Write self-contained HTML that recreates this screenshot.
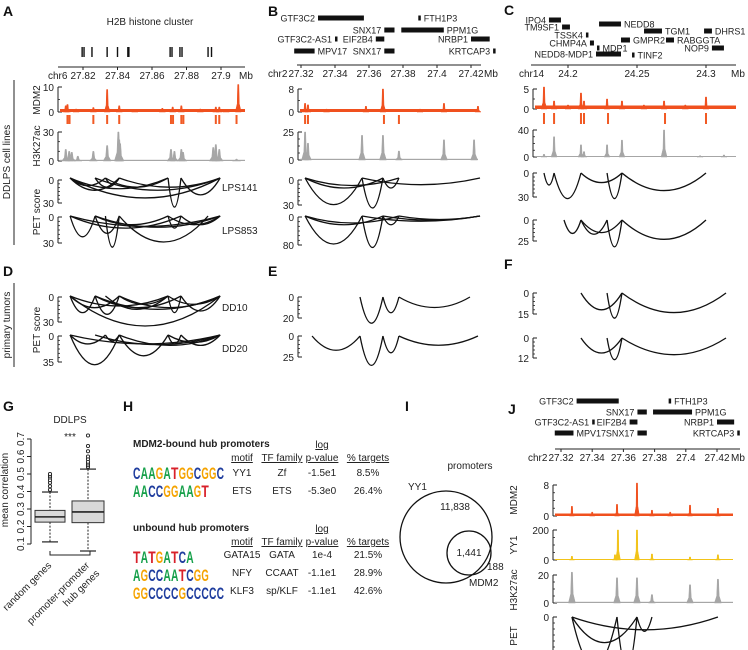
<!DOCTYPE html>
<html><head><meta charset="utf-8">
<style>
html,body{margin:0;padding:0;background:#fff;}
svg{display:block;font-family:"Liberation Sans",sans-serif;}
text{fill:#222;}
.pl{font-size:14px;font-weight:bold;fill:#111;}
.t{font-size:10px;}
.u{text-decoration:underline;}
</style></head>
<body>
<svg id="fig" width="748" height="650" viewBox="0 0 748 650" xmlns="http://www.w3.org/2000/svg">
<text class="pl" x="3" y="16">A</text>
<text class="pl" x="268" y="16">B</text>
<text class="pl" x="504" y="15">C</text>
<text class="pl" x="3" y="276">D</text>
<text class="pl" x="268" y="276">E</text>
<text class="pl" x="504" y="269">F</text>
<text class="pl" x="3" y="411">G</text>
<text class="pl" x="123" y="411">H</text>
<text class="pl" x="405" y="411">I</text>
<text class="pl" x="508" y="414">J</text>

<text class="t" x="150" y="25" text-anchor="middle">H2B histone cluster</text>

<line x1="14" y1="80" x2="14" y2="245" stroke="#222" stroke-width="1"/>
<text class="t" transform="translate(10,162) rotate(-90)" text-anchor="middle">DDLPS cell lines</text>
<line x1="14" y1="283" x2="14" y2="367" stroke="#222" stroke-width="1"/>
<text class="t" transform="translate(10,325) rotate(-90)" text-anchor="middle">primary tumors</text>

<text class="t" transform="translate(40,100) rotate(-90)" text-anchor="middle">MDM2</text>
<text class="t" transform="translate(40,146) rotate(-90)" text-anchor="middle">H3K27ac</text>
<text class="t" transform="translate(40,212) rotate(-90)" text-anchor="middle">PET score</text>
<text class="t" transform="translate(40,330) rotate(-90)" text-anchor="middle">PET score</text>

<text class="t" x="222" y="191">LPS141</text>
<text class="t" x="222" y="234">LPS853</text>
<text class="t" x="222" y="311">DD10</text>
<text class="t" x="222" y="352">DD20</text>

<text class="t" transform="translate(517,500) rotate(-90)" text-anchor="middle">MDM2</text>
<text class="t" transform="translate(517,545) rotate(-90)" text-anchor="middle">YY1</text>
<text class="t" transform="translate(517,590) rotate(-90)" text-anchor="middle">H3K27ac</text>
<text class="t" transform="translate(517,636) rotate(-90)" text-anchor="middle">PET</text>

<text class="t" transform="translate(8,490) rotate(-90)" text-anchor="middle">mean correlation</text>
<text class="t" x="70" y="423" text-anchor="middle">DDLPS</text>
<text class="t" x="70" y="440" text-anchor="middle">***</text>
<path d="M50 551 V555 H90 V551" fill="none" stroke="#222"/>
<text class="t" transform="translate(52,566) rotate(-45)" text-anchor="end">random genes</text>
<text class="t" transform="translate(90,566) rotate(-45)" text-anchor="end">promoter-promoter</text>
<text class="t" transform="translate(100,574) rotate(-45)" text-anchor="end">hub genes</text>

<g font-size="10">
<text x="133" y="447" font-weight="bold">MDM2-bound hub promoters</text>
<text class="u" x="322" y="448" text-anchor="middle">log</text>
<text class="u" x="242" y="461" text-anchor="middle">motif</text>
<text class="u" x="282" y="461" text-anchor="middle">TF family</text>
<text class="u" x="322" y="461" text-anchor="middle">p-value</text>
<text class="u" x="368" y="461" text-anchor="middle">% targets</text>
<text x="242" y="476" text-anchor="middle">YY1</text>
<text x="282" y="476" text-anchor="middle">Zf</text>
<text x="322" y="476" text-anchor="middle">-1.5e1</text>
<text x="368" y="476" text-anchor="middle">8.5%</text>
<text x="242" y="494" text-anchor="middle">ETS</text>
<text x="282" y="494" text-anchor="middle">ETS</text>
<text x="322" y="494" text-anchor="middle">-5.3e0</text>
<text x="368" y="494" text-anchor="middle">26.4%</text>

<text x="133" y="531" font-weight="bold">unbound hub promoters</text>
<text class="u" x="322" y="532" text-anchor="middle">log</text>
<text class="u" x="242" y="545" text-anchor="middle">motif</text>
<text class="u" x="282" y="545" text-anchor="middle">TF family</text>
<text class="u" x="322" y="545" text-anchor="middle">p-value</text>
<text class="u" x="368" y="545" text-anchor="middle">% targets</text>
<text x="242" y="558" text-anchor="middle">GATA15</text>
<text x="282" y="558" text-anchor="middle">GATA</text>
<text x="322" y="558" text-anchor="middle">1e-4</text>
<text x="368" y="558" text-anchor="middle">21.5%</text>
<text x="242" y="576" text-anchor="middle">NFY</text>
<text x="282" y="576" text-anchor="middle">CCAAT</text>
<text x="322" y="576" text-anchor="middle">-1.1e1</text>
<text x="368" y="576" text-anchor="middle">28.9%</text>
<text x="242" y="594" text-anchor="middle">KLF3</text>
<text x="282" y="594" text-anchor="middle">sp/KLF</text>
<text x="322" y="594" text-anchor="middle">-1.1e1</text>
<text x="368" y="594" text-anchor="middle">42.6%</text>
</g>

<text class="t" x="470" y="469" text-anchor="middle">promoters</text>
<circle cx="446" cy="537" r="46" fill="none" stroke="#111" stroke-width="1.3"/>
<circle cx="469" cy="553" r="22" fill="none" stroke="#111" stroke-width="1.3"/>
<text class="t" x="408" y="490">YY1</text>
<text class="t" x="455" y="510" text-anchor="middle">11,838</text>
<text class="t" x="469" y="556" text-anchor="middle">1,441</text>
<text class="t" x="487" y="570">188</text>
<text class="t" x="469" y="586">MDM2</text>
</svg>
<script>
const aGeneMarks = [27.8195,27.8206,27.8252,27.834,27.840,27.846,27.8466,27.8705,27.8716,27.8762,27.8774,27.8925,27.8945];
const aMdm2Pos = [27.810,27.811,27.816,27.826,27.834,27.841,27.850,27.866,27.872,27.877,27.888,27.897,27.899,27.903,27.910];
const aMdm2Val = [2.5,3,1.2,1.8,9,2.5,1,1.5,2,2.5,1.2,2,2,1,11];
const aTicks = [27.811,27.8122,27.826,27.834,27.841,27.871,27.8722,27.877,27.8782,27.897,27.899,27.909];
const aAcPos = [27.810,27.812,27.8135,27.817,27.826,27.834,27.8405,27.841,27.8415,27.871,27.873,27.877,27.878,27.8955,27.897,27.899,27.909];
const aAcVal = [12,10,9,5,10,16,30,22,18,12,10,12,9,14,17,12,2];
const lps141Arcs = [[27.8125,27.8995,26],[27.8125,27.8693,14],[27.8125,27.841,16],[27.827,27.8995,16],[27.827,27.841,12],[27.833,27.8693,12],[27.841,27.8995,12],[27.8693,27.8768,38],[27.8768,27.8995,22],[27.8125,27.833,10],[27.833,27.841,8]];
const lps853Arcs = [[27.8125,27.827,24],[27.8125,27.8995,12],[27.8125,27.8768,14],[27.827,27.841,20],[27.827,27.8693,10],[27.833,27.841,36],[27.841,27.8925,30],[27.8693,27.8768,14],[27.8693,27.8995,10],[27.8768,27.8995,10],[27.827,27.8995,13]];
const dd10Arcs = [[27.8125,27.8995,36],[27.8125,27.827,20],[27.8125,27.841,14],[27.8125,27.8693,12],[27.827,27.841,22],[27.827,27.8768,14],[27.833,27.8693,16],[27.841,27.8693,10],[27.841,27.8995,14],[27.8693,27.8768,20],[27.8693,27.8995,10],[27.8768,27.8995,18],[27.827,27.8995,16]];
const dd20Arcs = [[27.8125,27.841,40],[27.8125,27.8995,12],[27.8125,27.833,12],[27.833,27.841,8],[27.841,27.8693,28],[27.841,27.8995,14],[27.8693,27.8768,12],[27.8768,27.8995,14],[27.8693,27.8995,10],[27.827,27.8995,13]];
const bjGeneNames = ["GTF3C2","SNX17","FTH1P3","PPM1G","GTF3C2-AS1","EIF2B4","NRBP1","MPV17","SNX17","KRTCAP3"];
const bjGeneStart = [27.330,27.369,27.389,27.379,27.340,27.364,27.420,27.316,27.369,27.433];
const bjGeneEnd   = [27.357,27.375,27.3898,27.404,27.3408,27.369,27.431,27.328,27.375,27.4338];
const bjGeneRow   = [0,1,0,1,2,2,2,3,3,3];
const bjGeneSide  = ["L","L","R","R","L","L","L","R","L","L"];
const bMdm2Pos = [27.3224,27.3241,27.335,27.3582,27.3682,27.390,27.4041,27.4241];
const bMdm2Val = [3,2.5,1,2,8,1,3,2];
const bTicks = [27.3224,27.3241,27.3688,27.3776];
const bAcPos = [27.3224,27.3241,27.3559,27.3682,27.3776,27.4041,27.4218];
const bAcVal = [25,15,22,22,8,18,18];
const bPet1Arcs = [[27.3224,27.3559,32],[27.3224,27.3682,12],[27.3224,27.3776,9],[27.3559,27.3682,36],[27.3682,27.3776,12],[27.3559,27.4253,8]];
const bPet2Arcs = [[27.3224,27.3559,80],[27.3224,27.3682,25],[27.3224,27.3776,20],[27.3559,27.3682,90],[27.3682,27.3776,25],[27.3559,27.4253,15],[27.3682,27.4253,12],[27.3776,27.4253,10]];
const e1Arcs = [[27.3547,27.3682,25],[27.3682,27.3776,15],[27.3776,27.4194,10]];
const e2Arcs = [[27.3265,27.3547,17],[27.3547,27.3682,35],[27.3682,27.3776,20],[27.3776,27.4241,11]];
const cGeneNames = ["IPO4","TM9SF1","TSSK4","NEDD8","CHMP4A","MDP1","NEDD8-MDP1","TINF2","GMPR2","TGM1","RABGGTA","DHRS1","NOP9"];
const cGeneStart = [24.1862,24.1957,24.2130,24.2225,24.2159,24.2210,24.2203,24.2464,24.2384,24.2551,24.2710,24.2986,24.3043];
const cGeneEnd   = [24.1949,24.2014,24.2137,24.2384,24.2188,24.2217,24.2384,24.2471,24.2449,24.2681,24.2768,24.3043,24.3130];
const cGeneY     = [20,27,35,24,43,48,54,55,40,31,40,31,48];
const cGeneSide  = ["L","L","L","R","L","R","L","R","R","R","R","R","L"];
const cMdm2Pos = [24.1826,24.1899,24.200,24.2094,24.2116,24.2283,24.2391,24.255,24.2696,24.285,24.3];
const cMdm2Val = [5.5,2,1,4,2,2.5,2,1,2,1,3];
const cTicks = [24.1826,24.1899,24.2094,24.2116,24.229,24.2703,24.3];
const cAcPos = [24.1826,24.1899,24.2094,24.2116,24.2283,24.2391,24.2696,24.2957,24.313];
const cAcVal = [4,30,18,8,18,25,40,2,3];
const cPet1Arcs = [[24.1826,24.1899,15],[24.1899,24.2094,32],[24.2094,24.2391,12],[24.2283,24.2391,32],[24.2391,24.3,22]];
const cPet2Arcs = [[24.1971,24.2094,16],[24.2094,24.2283,17],[24.2094,24.2391,15],[24.2283,24.2391,32],[24.2391,24.3,23]];
const f1Arcs = [[24.2094,24.2391,12],[24.2283,24.2391,18],[24.2391,24.3145,14]];
const f2Arcs = [[24.2094,24.2391,9],[24.2283,24.2391,13],[24.2391,24.3145,10]];
const jMdm2Pos = [27.327,27.340,27.3559,27.3687,27.3783,27.390,27.4027,27.4206];
const jMdm2Val = [2.5,1,3,8.5,1.5,1,2.8,2];
const jYy1Pos = [27.327,27.3546,27.3565,27.3687,27.3783,27.4027,27.4206];
const jYy1Val = [25,35,200,200,40,20,35];
const jAcPos = [27.327,27.3559,27.3687,27.3783,27.4027,27.4206];
const jAcVal = [22,18,18,6,13,17];
const jPetArcs = [[27.327,27.3559,31],[27.327,27.3687,16],[27.327,27.4206,8],[27.3559,27.3687,32],[27.3687,27.3783,9]];
const boxGroups = ["random genes","promoter-promoter hub genes"];
const boxLo = [0.112,0.06];
const boxQ1 = [0.225,0.222];
const boxMed = [0.255,0.283];
const boxQ3 = [0.292,0.346];
const boxHi = [0.397,0.528];
const boxOutliers = [[0.41,0.43,0.45,0.465,0.48,0.49,0.50],[0.54,0.55,0.56,0.57,0.585,0.60,0.63,0.66,0.72]];
const boxTicks = [0.1,0.2,0.3,0.4,0.5,0.6,0.7];
const logoSeqs = ["CAAGATGGCGGC","AACCGGAAGT","TATGATCA","AGCCAATCGG","GGCCCCGCCCCC"];
const logoRowY = [472,490,556,574,592];

const NS = "http://www.w3.org/2000/svg";
const svg = document.getElementById("fig");
function add(tag, attrs, name) {
  const e = document.createElementNS(NS, tag);
  for (const k in attrs) e.setAttribute(k, attrs[k]);
  
  
  svg.appendChild(e);
  return e;
}
function txt(x, y, s, anchor, size, name) {
  const e = add("text", {x: x, y: y, "text-anchor": anchor, "font-size": size}, name);
  e.textContent = s;
  return e;
}
function scale(x0, g0, k) { return g => x0 + (g - g0) * k; }
const sA = scale(83, 27.82, 1725);
const sB = scale(301, 27.32, 1700);
const sC = scale(568, 24.2, 1380);
const sJ = scale(561, 27.32, 1560);

function xAxis(sc, x1, x2, y, ticks, labels, chr, chrX, mbX, name) {
  add("line", {x1: x1, y1: y, x2: x2, y2: y, stroke: "#222", "stroke-width": 1}, name + "-line");
  ticks.forEach((t, i) => {
    add("line", {x1: sc(t), y1: y, x2: sc(t), y2: y + 3, stroke: "#222"}, name + "-tick");
    txt(sc(t), y + 12, labels[i], "middle", 10, name + "-tick-label");
  });
  txt(chrX, y + 12, chr, "start", 10, name + "-chr-label");
  txt(mbX, y + 12, "Mb", "start", 10, name + "-unit-label");
}
function yAxis(x, yTop, yBot, lt, lb, minor, name) {
  add("line", {x1: x, y1: yTop, x2: x, y2: yBot, stroke: "#222"}, name);
  add("line", {x1: x, y1: yTop, x2: x + 4, y2: yTop, stroke: "#222"}, name + "-tick");
  add("line", {x1: x, y1: yBot, x2: x + 4, y2: yBot, stroke: "#222"}, name + "-tick");
  for (let i = 1; i < minor; i++) {
    const yy = yTop + (yBot - yTop) * i / minor;
    add("line", {x1: x, y1: yy, x2: x + 2, y2: yy, stroke: "#222", "stroke-width": 0.8}, name + "-minor-tick");
  }
  txt(x - 4, yTop + 4, lt, "end", 10, name + "-top-label");
  txt(x - 4, yBot + 4, lb, "end", 10, name + "-bottom-label");
}
function track(sc, pos, val, y0, ppu, x1, x2, color, baseH, hw, name) {
  add("rect", {x: x1, y: y0 - baseH, width: x2 - x1, height: baseH, fill: color}, name + "-baseline");
  pos.forEach((p, i) => {
    const x = sc(p), h = val[i] * ppu;
    add("path", {d: `M${x - hw} ${y0} L${x - hw * 0.35} ${y0 - h * 0.3} L${x - 0.6} ${y0 - h} L${x + 0.6} ${y0 - h} L${x + hw * 0.35} ${y0 - h * 0.3} L${x + hw} ${y0} Z`, fill: color, stroke: color, "stroke-width": 0.5}, name + "-peak");
  });
}
function peakTicks(sc, pos, y1, y2, name) {
  pos.forEach(p => {
    add("rect", {x: sc(p) - 1, y: y1, width: 2, height: y2 - y1, fill: "#f15a24"}, name);
  });
}
function arcs(sc, list, y0, ppu, name) {
  list.forEach(a => {
    const x1 = sc(a[0]), x2 = sc(a[1]), d = a[2] * ppu;
    add("path", {d: `M${x1} ${y0} Q${(x1 + x2) / 2} ${y0 + 2 * d} ${x2} ${y0}`, fill: "none", stroke: "#111", "stroke-width": 1.3}, name);
  });
}
function genes(sc, names, st, en, ys, sides, name) {
  names.forEach((n, i) => {
    const x1 = sc(st[i]), x2 = Math.max(sc(en[i]), sc(st[i]) + 2.5), y = ys[i];
    add("rect", {x: x1, y: y - 2.5, width: x2 - x1, height: 5, fill: "#111"}, name + "-bar");
    if (sides[i] === "L") txt(x1 - 3, y + 3.5, n, "end", 9, name + "-label");
    else txt(x2 + 3, y + 3.5, n, "start", 9, name + "-label");
  });
}
const RED = "#f0501e", GRAY = "#a6a6a6", YEL = "#f2c318";

aGeneMarks.forEach(g => {
  add("rect", {x: sA(g) - 0.7, y: 47, width: 1.4, height: 10, fill: "#111"}, "h2b-gene-mark");
});
xAxis(sA, 58, 245, 67, [27.82,27.84,27.86,27.88,27.9], ["27.82","27.84","27.86","27.88","27.9"], "chr6", 48, 239, "a-x-axis");
yAxis(58, 87, 112, "10", "0", 2, "a-mdm2-axis");
track(sA, aMdm2Pos, aMdm2Val, 112, 2.5, 60, 245, RED, 3, 3, "a-mdm2");
peakTicks(sA, aTicks, 115, 124, "a-mdm2-peak-tick");
yAxis(58, 132, 161, "30", "0", 3, "a-h3k27ac-axis");
track(sA, aAcPos, aAcVal, 161, 0.967, 60, 245, GRAY, 1.2, 4, "a-h3k27ac");
yAxis(58, 180, 203, "0", "30", 6, "a-lps141-axis");
arcs(sA, lps141Arcs, 178, 0.767, "lps141-loop");
yAxis(58, 217, 243, "0", "30", 6, "a-lps853-axis");
arcs(sA, lps853Arcs, 216, 0.867, "lps853-loop");
yAxis(58, 297, 322, "0", "30", 6, "d-dd10-axis");
arcs(sA, dd10Arcs, 296, 0.833, "dd10-loop");
yAxis(58, 336, 362, "0", "35", 6, "d-dd20-axis");
arcs(sA, dd20Arcs, 335, 0.743, "dd20-loop");

genes(sB, bjGeneNames, bjGeneStart, bjGeneEnd, bjGeneRow.map(r => [18,30,39,51][r]), bjGeneSide, "b-gene");
xAxis(sB, 297, 481, 65, [27.32,27.34,27.36,27.38,27.4,27.42], ["27.32","27.34","27.36","27.38","27.4","27.42"], "chr2", 268, 484, "b-x-axis");
yAxis(298, 89, 112, "8", "0", 2, "b-mdm2-axis");
track(sB, bMdm2Pos, bMdm2Val, 112, 2.875, 300, 478, RED, 3, 3, "b-mdm2");
peakTicks(sB, bTicks, 115, 124, "b-mdm2-peak-tick");
yAxis(298, 132, 160, "25", "0", 4, "b-h3k27ac-axis");
track(sB, bAcPos, bAcVal, 160, 1.12, 300, 478, GRAY, 1.2, 3.5, "b-h3k27ac");
yAxis(298, 180, 205, "0", "30", 6, "b-pet1-axis");
arcs(sB, bPet1Arcs, 178, 0.833, "b-pet1-loop");
yAxis(298, 217, 245, "0", "80", 6, "b-pet2-axis");
arcs(sB, bPet2Arcs, 216, 0.35, "b-pet2-loop");
yAxis(298, 297, 318, "0", "20", 5, "e-pet1-axis");
arcs(sB, e1Arcs, 297, 1.05, "e-pet1-loop");
yAxis(298, 336, 357, "0", "25", 5, "e-pet2-axis");
arcs(sB, e2Arcs, 336, 0.84, "e-pet2-loop");

genes(sC, cGeneNames, cGeneStart, cGeneEnd, cGeneY, cGeneSide, "c-gene");
xAxis(sC, 531, 736, 65, [24.2,24.25,24.3], ["24.2","24.25","24.3"], "chr14", 519, 731, "c-x-axis");
yAxis(533, 89, 109, "5", "0", 2, "c-mdm2-axis");
track(sC, cMdm2Pos, cMdm2Val, 109, 4, 535, 736, RED, 3.5, 3, "c-mdm2");
peakTicks(sC, cTicks, 113, 124, "c-mdm2-peak-tick");
yAxis(533, 130, 157, "40", "0", 4, "c-h3k27ac-axis");
track(sC, cAcPos, cAcVal, 157, 0.675, 535, 736, GRAY, 1, 3, "c-h3k27ac");
yAxis(533, 173, 197, "0", "30", 6, "c-pet1-axis");
arcs(sC, cPet1Arcs, 173, 0.8, "c-pet1-loop");
yAxis(533, 220, 241, "0", "25", 5, "c-pet2-axis");
arcs(sC, cPet2Arcs, 220, 0.84, "c-pet2-loop");
yAxis(533, 293, 314, "0", "15", 5, "f-pet1-axis");
arcs(sC, f1Arcs, 293, 1.4, "f-pet1-loop");
yAxis(533, 338, 358, "0", "12", 5, "f-pet2-axis");
arcs(sC, f2Arcs, 338, 1.67, "f-pet2-loop");

genes(sJ, bjGeneNames, bjGeneStart, bjGeneEnd, bjGeneRow.map(r => [401,412,422,433][r]), bjGeneSide, "j-gene");
xAxis(sJ, 555, 740, 449, [27.32,27.34,27.36,27.38,27.4,27.42], ["27.32","27.34","27.36","27.38","27.4","27.42"], "chr2", 528, 731, "j-x-axis");
yAxis(553, 485, 516, "8", "0", 4, "j-mdm2-axis");
track(sJ, jMdm2Pos, jMdm2Val, 516, 3.875, 555, 733, RED, 2.5, 2.5, "j-mdm2");
yAxis(553, 530, 560, "200", "0", 4, "j-yy1-axis");
track(sJ, jYy1Pos, jYy1Val, 560, 0.15, 555, 733, YEL, 1, 2.5, "j-yy1");
yAxis(553, 575, 603, "20", "0", 4, "j-h3k27ac-axis");
track(sJ, jAcPos, jAcVal, 603, 1.4, 555, 733, GRAY, 1.2, 3.5, "j-h3k27ac");
yAxis(553, 617, 665, "0", "30", 8, "j-pet-axis");
arcs(sJ, jPetArcs, 617, 1.6, "j-pet-loop");

const gy = v => 544 - (v - 0.1) * 175;
const gBoxX = [35, 72], gBoxW = [30, 32];
add("line", {x1: 31, y1: gy(0.1), x2: 31, y2: gy(0.7), stroke: "#222"}, "g-y-axis");
boxTicks.forEach(t => {
  add("line", {x1: 27, y1: gy(t), x2: 31, y2: gy(t), stroke: "#222"}, "g-y-tick");
  const lab = txt(0, 0, t.toFixed(1), "middle", 10, "g-y-tick-label");
  lab.setAttribute("transform", `translate(24,${gy(t)}) rotate(-90)`);
});
boxGroups.forEach((g, i) => {
  const x = gBoxX[i], w = gBoxW[i], cx = x + w / 2;
  add("line", {x1: cx, y1: gy(boxHi[i]), x2: cx, y2: gy(boxQ3[i]), stroke: "#222", "stroke-dasharray": "2,1.5"}, "g-whisker-upper");
  add("line", {x1: cx, y1: gy(boxQ1[i]), x2: cx, y2: gy(boxLo[i]), stroke: "#222", "stroke-dasharray": "2,1.5"}, "g-whisker-lower");
  add("line", {x1: cx - 8, y1: gy(boxHi[i]), x2: cx + 8, y2: gy(boxHi[i]), stroke: "#222", "stroke-width": 1.2}, "g-whisker-cap");
  add("line", {x1: cx - 8, y1: gy(boxLo[i]), x2: cx + 8, y2: gy(boxLo[i]), stroke: "#222", "stroke-width": 1.2}, "g-whisker-cap");
  add("rect", {x: x, y: gy(boxQ3[i]), width: w, height: gy(boxQ1[i]) - gy(boxQ3[i]), fill: "#d9d9d9", stroke: "#333", "stroke-width": 1}, "g-box");
  add("line", {x1: x, y1: gy(boxMed[i]), x2: x + w, y2: gy(boxMed[i]), stroke: "#222", "stroke-width": 1.6}, "g-median");
  boxOutliers[i].forEach(o => {
    add("circle", {cx: cx, cy: gy(o), r: 1.6, fill: "#fff", stroke: "#222", "stroke-width": 0.9}, "g-outlier");
  });
});

const logoColors = {A: "#16a04a", C: "#1f3d9e", G: "#f5a300", T: "#d8202a"};
logoSeqs.forEach((s, r) => {
  const cy = logoRowY[r];
  for (let i = 0; i < s.length; i++) {
    const ch = s[i];
    const e = add("text", {x: 133 + i * 7.6, y: cy + 7, "font-size": 17, "font-weight": "bold", textLength: 7.4, lengthAdjust: "spacingAndGlyphs", fill: logoColors[ch]}, "motif-logo-letter");
    e.style.fill = logoColors[ch];
    e.textContent = ch;
  }
});
</script>
</body></html>
